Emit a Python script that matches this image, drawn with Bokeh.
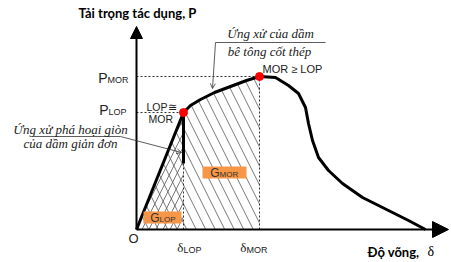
from bokeh.plotting import figure
from bokeh.models import Range1d, Arrow, NormalHead, OpenHead
from bokeh.core.properties import value
from bokeh.embed import file_html
from bokeh.resources import INLINE

# ---- chart values (deflection delta, load P; arbitrary schematic units) ----
delta_LOP = 47
delta_MOR = 123
P_LOP = 117
P_MOR = 153

rising_delta = [0, 47]
rising_P = [0, 117]

brittle_drop_P = [117, 66]

hardening_delta = [47, 54, 64, 78, 94, 110, 123]
hardening_P = [117, 124, 130, 137, 143, 149, 153]

softening_delta = [123, 139, 152, 162, 169, 172, 176, 182, 192, 206, 226, 252, 272, 289]
softening_P = [153, 152, 144, 136, 122, 106, 89, 72, 59, 46, 32, 19, 9, 0]

axis_x_end = 312
axis_y_end = 203

title_y = "Tải trọng tác dụng, P"
title_x = "Độ võng, "
note_brittle = ["Ứng xử phá hoại giòn", "của dầm giản đơn"]
note_rc = ["Ứng xử của dầm", "bê tông cốt thép"]
label_mor_lop = "MOR ≥ LOP"
label_lop_mor = ["LOP≅", "MOR"]

W, H = 451, 262
p = figure(width=W, height=H, output_backend="svg", toolbar_location=None,
           x_range=Range1d(-136, -136 + W), y_range=Range1d(-33, -33 + H),
           x_axis_type=None, y_axis_type=None, min_border=0,
           outline_line_color=None, background_fill_color="white")
p.xgrid.visible = False
p.ygrid.visible = False

SANS = "Liberation Sans"
SERIF = "Liberation Serif"


def txt(x, y, s, size, font=SANS, style="normal", align="left",
        baseline="middle", color="#222222"):
    p.text(x=[x], y=[y], text=[s], text_font=value(font),
           text_font_size=value(f"{size}px"), text_font_style=style,
           text_align=align, text_baseline=baseline, text_color=color)


# hatched areas
area_x = [0] + hardening_delta + [delta_MOR]
area_y = [0] + hardening_P + [0]
p.patch(area_x, area_y, fill_color=None, line_color=None,
        hatch_pattern="\\", hatch_color="#555555", hatch_weight=0.8, hatch_scale=19)
p.patch([0, delta_LOP, delta_LOP], [0, P_LOP, 0], fill_color=None, line_color=None,
        hatch_pattern="/", hatch_color="#555555", hatch_weight=0.8, hatch_scale=14)

# dotted guides
dot = dict(line_color="#333333", line_width=1, line_dash="2 2")
p.line([0, delta_MOR], [P_MOR, P_MOR], **dot)
p.line([0, delta_LOP], [P_LOP, P_LOP], **dot)
p.line([delta_LOP, delta_LOP], [0, P_LOP], **dot)
p.line([delta_MOR, delta_MOR], [0, P_MOR], **dot)

# curves
p.line(rising_delta, rising_P, line_color="black", line_width=3)
p.line([delta_LOP, delta_LOP], brittle_drop_P, line_color="black", line_width=3)
p.line(hardening_delta, hardening_P, line_color="black", line_width=3, line_join="round")
p.line(softening_delta, softening_P, line_color="black", line_width=3, line_join="round")

# axes with arrow heads
p.add_layout(Arrow(x_start=0, y_start=0, x_end=0, y_end=axis_y_end, line_width=2,
                   end=NormalHead(size=12, fill_color="black", line_color="black")))
p.add_layout(Arrow(x_start=0, y_start=0, x_end=axis_x_end, y_end=0, line_width=2,
                   end=NormalHead(size=16, fill_color="black", line_color="black")))

# key points
p.scatter([delta_LOP, delta_MOR], [P_LOP, P_MOR], size=8, fill_color="red", line_color="red")

# orange energy boxes
p.rect(x=[26, 88], y=[12, 57], width=[38, 44], height=[12, 12],
       fill_color="#F79646", line_color=None)
txt(23, 12, "G", 12, align="right", color="#333333")
txt(23, 10, "LOP", 8, color="#333333")
txt(83, 57, "G", 12, align="right", color="#333333")
txt(83, 55, "MOR", 8, color="#333333")

# pointer lines
p.line([-103, -16], [93, 93], line_color="#333333", line_width=0.8)
p.add_layout(Arrow(x_start=-16, y_start=93, x_end=45, y_end=77, line_width=0.8,
                   line_color="#333333", end=OpenHead(size=5, line_width=0.8, line_color="#333333")))
p.line([79, 189], [187, 187], line_color="#333333", line_width=0.8)
p.add_layout(Arrow(x_start=79, y_start=187, x_end=76, y_end=141, line_width=0.8,
                   line_color="#333333", end=OpenHead(size=5, line_width=0.8, line_color="#333333")))

# texts
txt(1, 217, title_y, 13, font="Lato", style="bold", align="center", color="black")
txt(231, -22, title_x, 13, font="Lato", style="bold", color="black")
txt(291, -22, "δ", 14, font=SERIF, color="black")
txt(-29, P_MOR - 1, "P", 14, align="right")
txt(-29, P_MOR - 3, "MOR", 9)
txt(-28, P_LOP + 3, "P", 14, align="right")
txt(-28, P_LOP + 1, "LOP", 9)
txt(10, P_LOP + 6, label_lop_mor[0], 10.5)
txt(12, P_LOP - 6, label_lop_mor[1], 10.5)
txt(-66, 100, note_brittle[0], 13, font=SERIF, style="italic", align="center")
txt(-66, 86, note_brittle[1], 13, font=SERIF, style="italic", align="center")
txt(134, 196, note_rc[0], 13, font=SERIF, style="italic", align="center")
txt(133, 178, note_rc[1], 13, font=SERIF, style="italic", align="center")
txt(delta_MOR + 3, P_MOR + 8, label_mor_lop, 11)
txt(-8, -9, "O", 13)
txt(delta_LOP, -17.5, "δ", 13, font=SERIF, align="right", baseline="alphabetic")
txt(delta_LOP, -20, "LOP", 9, baseline="alphabetic")
txt(110, -17.5, "δ", 13, font=SERIF, align="right", baseline="alphabetic")
txt(110, -20, "MOR", 9, baseline="alphabetic")

open("out.html", "w").write(file_html(p, INLINE))
